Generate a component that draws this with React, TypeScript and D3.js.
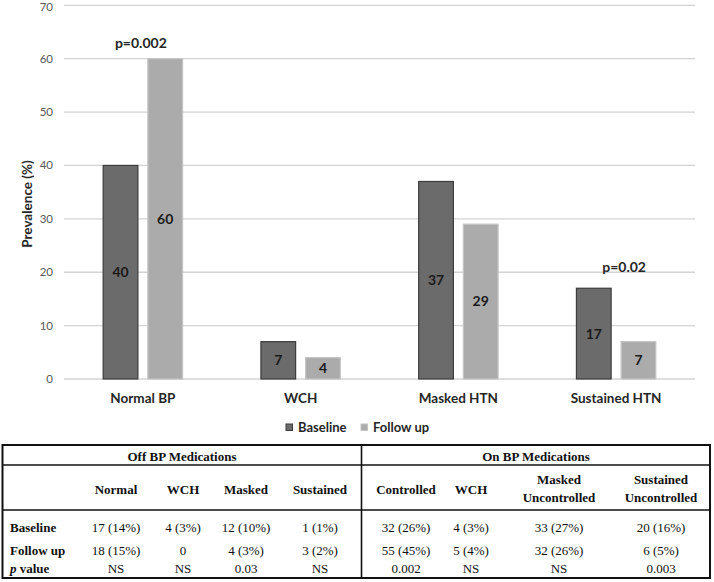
import React from "react";
import * as d3 from "d3";

const categories = ["Normal BP", "WCH", "Masked HTN", "Sustained HTN"];
const baseline = [40, 7, 37, 17];
const followUp = [60, 4, 29, 7];
const seriesNames = ["Baseline", "Follow up"];
const yTicks = [0, 10, 20, 30, 40, 50, 60, 70];
const annotations = [
  { category: "Normal BP", y: 63, text: "p=0.002", dx: -2 },
  { category: "Sustained HTN", y: 21, text: "p=0.02", dx: 8 },
];

const offHeader = "Off BP Medications";
const onHeader = "On BP Medications";
const offCols = [["Normal"], ["WCH"], ["Masked"], ["Sustained"]];
const onCols = [["Controlled"], ["WCH"], ["Masked", "Uncontrolled"], ["Sustained", "Uncontrolled"]];
const rowLabels = ["Baseline", "Follow up", "p value"];
const offValues = [
  ["17 (14%)", "4 (3%)", "12 (10%)", "1 (1%)"],
  ["18 (15%)", "0", "4 (3%)", "3 (2%)"],
  ["NS", "NS", "0.03", "NS"],
];
const onValues = [
  ["32 (26%)", "4 (3%)", "33 (27%)", "20 (16%)"],
  ["55 (45%)", "5 (4%)", "32 (26%)", "6 (5%)"],
  ["0.002", "NS", "NS", "0.003"],
];

// layout
const W = 714, H = 582;
const plotL = 64, plotR = 695, plotT = 5.3, plotB = 379;
const barW = 34.7, barGap = 10;
const chartFont = "Lato, 'Open Sans', sans-serif";
const tableFont = "'Liberation Serif', 'Times New Roman', serif";
const offColX = [116, 183, 246, 320];
const onColX = [406, 471, 559, 661];
const rowY = [527, 550, 568.5];
const tblL = 2.5, tblR = 710, tblT = 445, tblB = 578, tblMid = 361.5;
const tblLine1 = 465, tblLine2 = 510;

const tStyle = { fontFamily: tableFont, fontSize: 13, fill: "#111" } as const;
const tBold = { ...tStyle, fontWeight: "bold" } as const;

export default function App() {
  const x = d3.scaleBand().domain(categories).range([plotL, plotR]).padding(0);
  const y = d3.scaleLinear().domain([0, 70]).range([plotB, plotT]);
  const colors = ["#6b6b6b", "#ababab"];
  const strokes = ["#3c3c3c", "#c4c4c4"];
  const series = [baseline, followUp];

  return (
    <svg
      width={W}
      height={H}
      style={{ position: "absolute", left: 0, top: 0, background: "#fff" }}
    >
      <rect x={0} y={0} width={W} height={H} fill="#fff" />
      {yTicks.map((t) => (
        <g key={t}>
          <line x1={plotL} x2={plotR} y1={y(t)} y2={y(t)} stroke="#d4d4d4" strokeWidth={1.3} />
          <text
            x={53}
            y={Math.max(y(t), 6.5)}
            dy="0.35em"
            textAnchor="end"
            style={{ fontFamily: chartFont, fontSize: 11.5, fill: "#595959" }}
          >
            {t}
          </text>
        </g>
      ))}
      <text
        transform={`translate(27,204) rotate(-90)`}
        textAnchor="middle"
        dy="0.35em"
        style={{ fontFamily: chartFont, fontWeight: "bold", fontSize: 13.5, fill: "#262626" }}
      >
        Prevalence (%)
      </text>
      {categories.map((c, i) => {
        const cx = (x(c) as number) + x.bandwidth() / 2;
        return (
          <g key={c}>
            {series.map((s, k) => {
              const bx = k === 0 ? cx - barGap / 2 - barW : cx + barGap / 2;
              const v = s[i];
              return (
                <g key={k}>
                  <rect
                    x={bx}
                    y={y(v)}
                    width={barW}
                    height={y(0) - y(v)}
                    fill={colors[k]}
                    stroke={strokes[k]}
                    strokeWidth={1.2}
                  />
                  <text
                    x={bx + barW / 2}
                    y={(y(v) + y(0)) / 2}
                    dy="0.35em"
                    textAnchor="middle"
                    style={{ fontFamily: chartFont, fontWeight: "bold", fontSize: 14, fill: "#1a1a1a" }}
                  >
                    {v}
                  </text>
                </g>
              );
            })}
            <text
              x={cx}
              y={398}
              dy="0.35em"
              textAnchor="middle"
              style={{ fontFamily: chartFont, fontWeight: "bold", fontSize: 13.5, fill: "#262626" }}
            >
              {c}
            </text>
          </g>
        );
      })}
      {annotations.map((a) => (
        <text
          key={a.text}
          x={(x(a.category) as number) + x.bandwidth() / 2 + a.dx}
          y={y(a.y)}
          dy="0.35em"
          textAnchor="middle"
          style={{ fontFamily: chartFont, fontWeight: "bold", fontSize: 14, fill: "#262626" }}
        >
          {a.text}
        </text>
      ))}
      {seriesNames.map((n, k) => {
        const lx = k === 0 ? 286 : 361;
        return (
          <g key={n}>
            <rect
              x={lx}
              y={424}
              width={6.5}
              height={6.5}
              fill={colors[k]}
              stroke={strokes[k]}
              strokeWidth={1}
            />
            <text
              x={lx + 12}
              y={427.5}
              dy="0.35em"
              style={{ fontFamily: chartFont, fontWeight: "bold", fontSize: 13, fill: "#262626" }}
            >
              {n}
            </text>
          </g>
        );
      })}
      <g>
        <rect
          x={tblL}
          y={tblT}
          width={tblR - tblL}
          height={tblB - tblT}
          fill="none"
          stroke="#111"
          strokeWidth={2}
        />
        <line x1={tblL} x2={tblR} y1={tblLine1} y2={tblLine1} stroke="#111" strokeWidth={1.6} />
        <line x1={tblL} x2={tblR} y1={tblLine2} y2={tblLine2} stroke="#111" strokeWidth={1.6} />
        <line x1={tblMid} x2={tblMid} y1={tblT} y2={tblB} stroke="#111" strokeWidth={1.6} />
        <text x={182} y={456} dy="0.35em" textAnchor="middle" style={tBold}>
          {offHeader}
        </text>
        <text x={536} y={456} dy="0.35em" textAnchor="middle" style={tBold}>
          {onHeader}
        </text>
        {offCols.map((lines, i) => (
          <text key={"oc" + i} x={offColX[i]} y={489} dy="0.35em" textAnchor="middle" style={tBold}>
            {lines[0]}
          </text>
        ))}
        {onCols.map((lines, i) =>
          lines.map((l, j) => (
            <text
              key={"nc" + i + j}
              x={onColX[i]}
              y={lines.length === 1 ? 489 : 479 + j * 18}
              dy="0.35em"
              textAnchor="middle"
              style={tBold}
            >
              {l}
            </text>
          ))
        )}
        {rowLabels.map((r, ri) => (
          <text key={r} x={10} y={rowY[ri]} dy="0.35em" style={tBold}>
            {r === "p value" ? (
              <>
                <tspan style={{ fontStyle: "italic" }}>p</tspan> value
              </>
            ) : (
              r
            )}
          </text>
        ))}
        {offValues.map((row, ri) =>
          row.map((v, ci) => (
            <text key={"ov" + ri + ci} x={offColX[ci]} y={rowY[ri]} dy="0.35em" textAnchor="middle" style={tStyle}>
              {v}
            </text>
          ))
        )}
        {onValues.map((row, ri) =>
          row.map((v, ci) => (
            <text key={"nv" + ri + ci} x={onColX[ci]} y={rowY[ri]} dy="0.35em" textAnchor="middle" style={tStyle}>
              {v}
            </text>
          ))
        )}
      </g>
    </svg>
  );
}
